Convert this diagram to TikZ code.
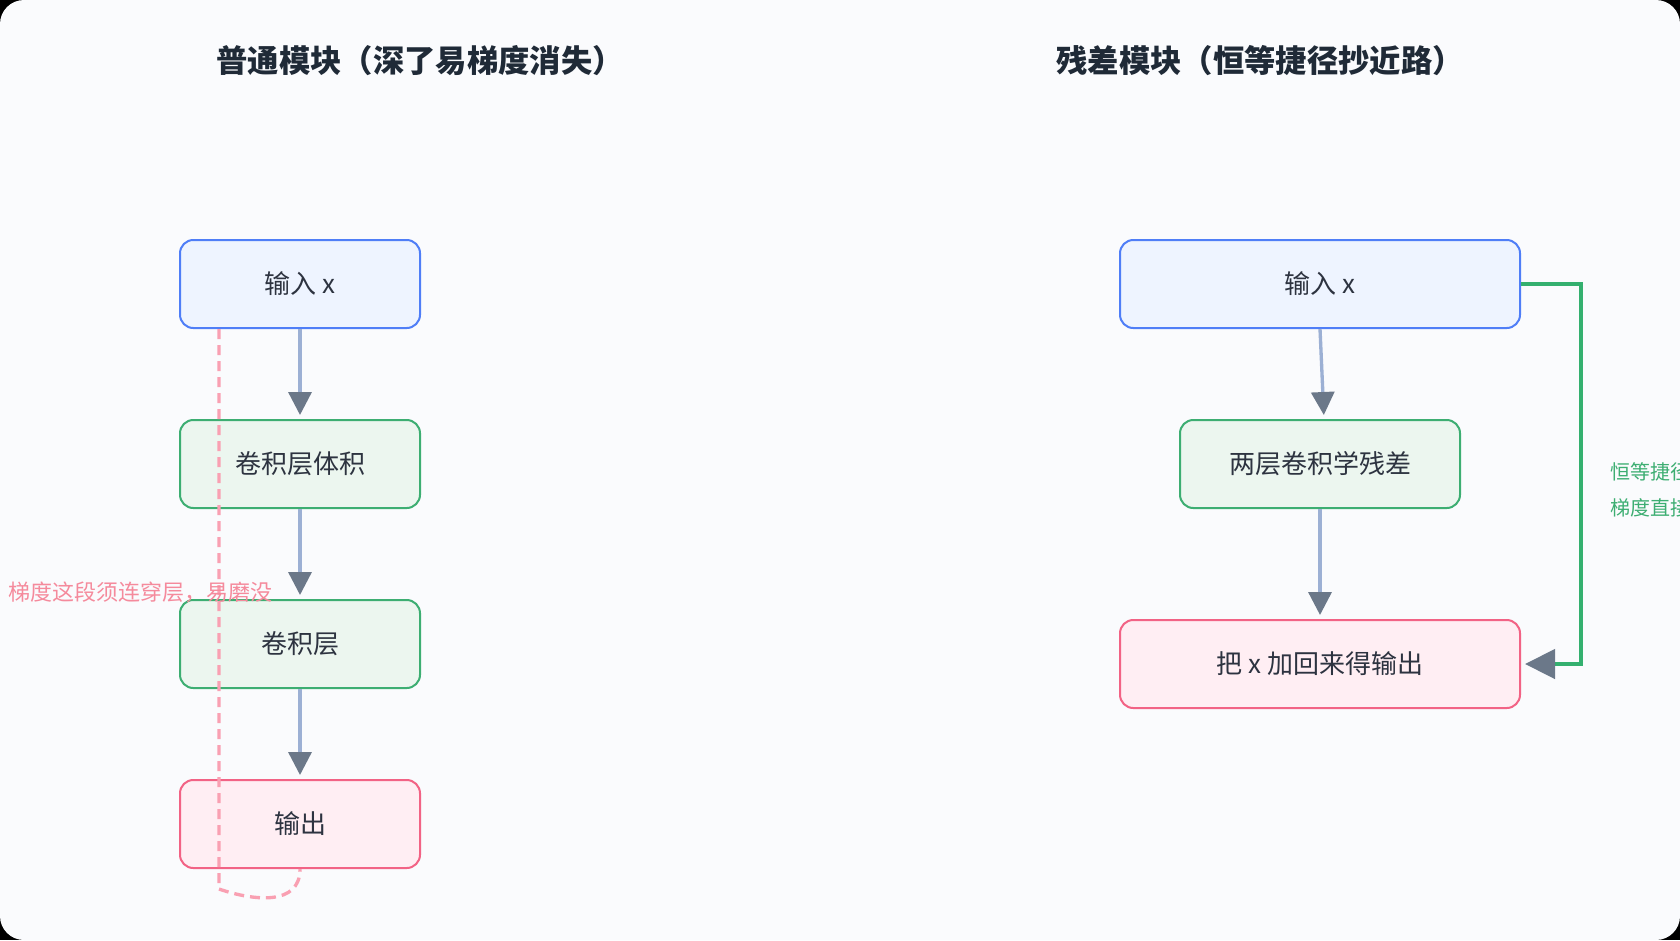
\documentclass[tikz,border=0pt]{standalone}
\usepackage{fontspec}
\setmainfont{Noto Sans CJK SC}
\usetikzlibrary{arrows.meta,calc}
\newcommand\pxu{0.75pt}
\definecolor{bgc}{HTML}{FAFBFD}
\definecolor{titlec}{HTML}{1F2A37}
\definecolor{textc}{HTML}{2D3340}
\definecolor{blueb}{HTML}{4F7EF7}
\definecolor{bluef}{HTML}{EEF4FF}
\definecolor{greenb}{HTML}{3DAE72}
\definecolor{greenf}{HTML}{ECF6EF}
\definecolor{pinkb}{HTML}{F26385}
\definecolor{pinkf}{HTML}{FFEEF3}
\definecolor{linegray}{HTML}{9CB0D4}
\definecolor{headgray}{HTML}{6B7889}
\definecolor{shortc}{HTML}{34B06F}
\definecolor{dashpink}{HTML}{F9A0B2}
\definecolor{labpink}{HTML}{F58A9C}
\definecolor{labgreen}{HTML}{3DAE72}
\tikzset{
  x=0.75pt, y=-0.75pt,
  boxbase/.style={rectangle, rounded corners=10pt, line width=1.5pt, minimum height=88*\pxu, text=textc, font=\fontsize{19.5pt}{23pt}\selectfont, inner sep=0pt},
  inbox/.style={boxbase, draw=blueb, fill=bluef, minimum width=240*\pxu},
  convbox/.style={boxbase, draw=greenb, fill=greenf, minimum width=240*\pxu},
  outbox/.style={boxbase, draw=pinkb, fill=pinkf, minimum width=240*\pxu},
  titlestyle/.style={font=\fontsize{23.5pt}{27pt}\selectfont\bfseries, text=titlec},
  flow/.style={draw=linegray, line width=2.5pt, shorten >=3pt, -{Triangle[length=17.25pt, width=17.25pt, color=headgray]}},
  shortcut/.style={draw=shortc, line width=3.4pt, shorten >=3pt, -{Triangle[length=22.5pt, width=21.75pt, color=headgray]}},
  gradpath/.style={draw=dashpink, line width=2.5pt, dash pattern=on 7.5pt off 4.5pt},
  pinklabel/.style={font=\fontsize{16.5pt}{20pt}\selectfont, text=labpink, anchor=west, inner sep=0pt},
  greenlabel/.style={font=\fontsize{15pt}{18pt}\selectfont, text=labgreen, anchor=west, inner sep=0pt}
}
\begin{document}
\begin{tikzpicture}
\fill[black] (0,0) rectangle (1680,940);
\fill[bgc, rounded corners=18pt] (0,0) rectangle (1680,940);
\useasboundingbox (0,0) rectangle (1680,940);
\clip (0,0) rectangle (1680,940);

% titles
\node[titlestyle] (t1) at (420,61) {普通模块（深了易梯度消失）};
\node[titlestyle] (t2) at (1260,61) {残差模块（恒等捷径抄近路）};

% left column
\node[inbox] (l1) at (300,284) {输入 x};
\node[convbox] (l2) at (300,464) {卷积层体积};
\node[convbox] (l3) at (300,644) {卷积层};
\node[outbox] (l4) at (300,824) {输出};

\draw[gradpath] ([xshift=30pt]l1.south west) -- ++(0,560) .. controls +(35,12) and +(0,37) .. (l4.south);

\draw[flow] (l1.south) -- (l2.north);
\draw[flow] (l2.south) -- (l3.north);
\draw[flow] (l3.south) -- (l4.north);

\node[pinklabel] (pl) at (8,592) {梯度这段须连穿层，易磨没};

% right column
\node[inbox, minimum width=400*\pxu] (r1) at (1320,284) {输入 x};
\node[convbox, minimum width=280*\pxu] (r2) at (1320,464) {两层卷积学残差};
\node[outbox, minimum width=400*\pxu] (r3) at (1320,664) {把 x 加回来得输出};

\draw[flow] (r1.south) -- ([xshift=3pt]r2.north);
\draw[flow] (r2.south) -- (r3.north);
\draw[shortcut] (r1.east) -- ++(60,0) |- (r3.east);

\node[greenlabel] (g1) at (1610,472) {恒等捷径};
\node[greenlabel] (g2) at (1610,508) {梯度直接};
\end{tikzpicture}
\end{document}
